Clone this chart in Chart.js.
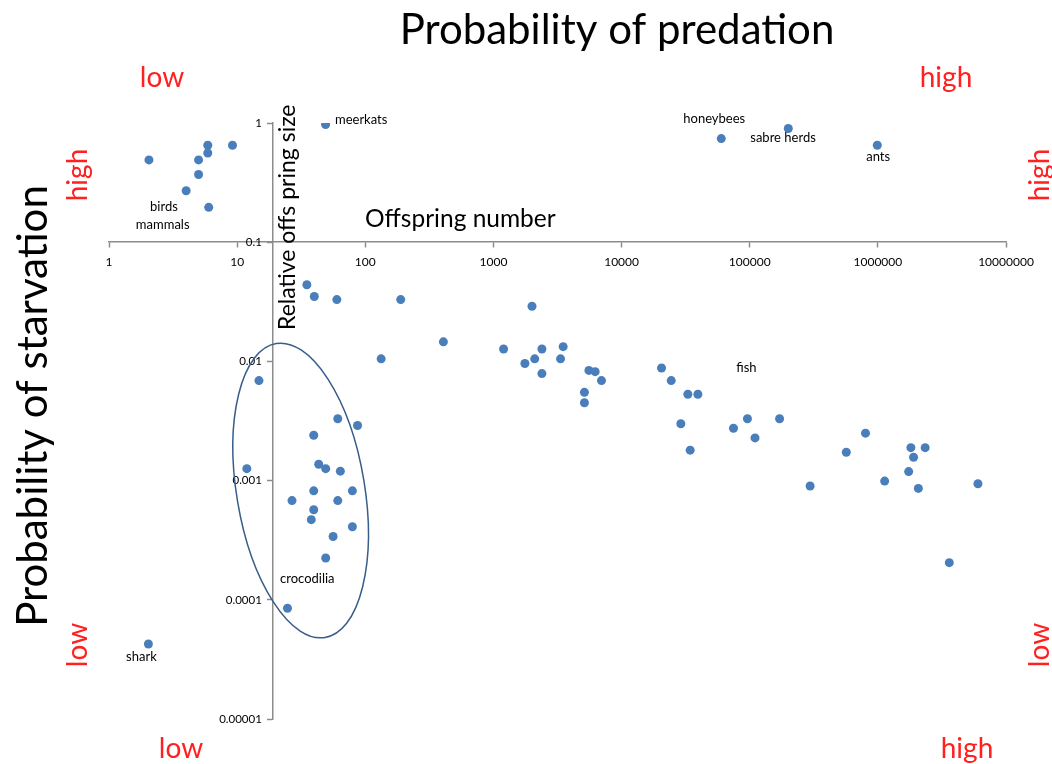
<!DOCTYPE html>
<html>
<head>
<meta charset="utf-8">
<script src="https://cdn.jsdelivr.net/npm/chart.js@4/dist/chart.umd.min.js"></script>
<style>
    body { margin: 0; background: #fff; }
    #wrap { width: 1052px; height: 764px; }
</style>
</head>
<body>
<div id="wrap"><canvas id="myChart" width="1052" height="764"></canvas></div>
<script>
// offspring number (x) vs relative offspring size (y)
var offspringNumber = [
    2.05, 5.9, 5.9, 9.2, 5.0, 5.0, 4.0, 6.0, 49,
    60000, 200000, 990000,
    35, 40, 60, 189, 407, 133, 14.8,
    2000, 1200, 1760, 2100, 2390, 2390, 3500, 3340, 5560, 6220, 6970, 5130, 5130,
    20500, 24400, 32900, 39400, 29000, 34300, 74700, 96000, 110000, 171000, 296000,
    801000, 567000, 1130000, 1810000, 2340000, 1900000, 1740000, 2070000, 6040000, 3610000,
    61, 87, 39.6, 11.9, 43.3, 49.1, 63.9, 39.6, 79.3, 26.8, 61, 39.6, 37.9, 79.3, 56.1, 49.1, 24.7,
    2.03
];
var offspringSize = [
    0.49, 0.65, 0.56, 0.65, 0.49, 0.37, 0.27, 0.196, 0.97,
    0.74, 0.9, 0.65,
    0.044, 0.035, 0.033, 0.033, 0.0146, 0.0105, 0.0069,
    0.029, 0.0127, 0.0096, 0.0105, 0.0127, 0.0079, 0.0133, 0.0105, 0.0084, 0.0082, 0.0069, 0.0055, 0.0045,
    0.0088, 0.0069, 0.0053, 0.0053, 0.0030, 0.0018, 0.00275, 0.0033, 0.00228, 0.0033, 0.0009,
    0.0025, 0.00173, 0.00099, 0.00189, 0.00189, 0.00157, 0.00119, 0.00086, 0.00094, 0.000205,
    0.0033, 0.0029, 0.0024, 0.00126, 0.00137, 0.00126, 0.0012, 0.00082, 0.00082, 0.00068, 0.00068,
    0.00057, 0.00047, 0.00041, 0.00034, 0.000224, 0.000085,
    0.0000426
];

var xTicks = [1, 10, 100, 1000, 10000, 100000, 1000000, 10000000];
var yTicks = [0.00001, 0.0001, 0.001, 0.01, 0.1, 1];

// group names written next to the points
var noteText = ['meerkats', 'honeybees', 'sabre herds', 'ants', 'birds', 'mammals', 'fish', 'crocodilia', 'shark'];
var noteX = [58, 30300, 101000, 811000, 2.09, 1.62, 78500, 21.6, 1.36];
var noteY = [1.06, 1.08, 0.75, 0.52, 0.2, 0.139, 0.0088, 0.000149, 0.0000331];

// the ring around the crocodilia
var ringX = 31.3;
var ringY = 0.000826;

var points = [];
for (i = 0; i < offspringNumber.length; i++) {
    points.push({ x: offspringNumber[i], y: offspringSize[i] });
}

var FONT = 'Lato, "Open Sans", sans-serif';

function text(ctx, str, x, y, size, color, align, rot) {
    ctx.save();
    ctx.translate(x, y);
    if (rot) ctx.rotate(rot);
    ctx.font = size + 'px ' + FONT;
    ctx.fillStyle = color;
    ctx.textAlign = align || 'center';
    ctx.textBaseline = 'middle';
    ctx.fillText(str, 0, 0);
    ctx.restore();
}

var extras = {
    id: 'extras',
    afterDatasetsDraw: function (chart) {
        var ctx = chart.ctx;
        var xs = chart.scales.x, ys = chart.scales.y;

        // y tick labels, left of the crossing axis
        var axisX = xs.getPixelForValue(19);
        for (var t = 0; t < yTicks.length; t++) {
            text(ctx, String(yTicks[t]), axisX - 11, ys.getPixelForValue(yTicks[t]), 11.5, '#000', 'right');
        }

        // ellipse
        ctx.save();
        ctx.beginPath();
        ctx.ellipse(xs.getPixelForValue(ringX), ys.getPixelForValue(ringY), 64, 149, -0.165, 0, Math.PI * 2);
        ctx.strokeStyle = '#385D8A';
        ctx.lineWidth = 1.5;
        ctx.stroke();
        ctx.restore();

        for (var i = 0; i < noteText.length; i++) {
            text(ctx, noteText[i], xs.getPixelForValue(noteX[i]), ys.getPixelForValue(noteY[i]), 13, '#000', 'left');
        }

        // axis names inside the plot
        text(ctx, 'Offspring number', 365, 219, 24.5, '#000', 'left');
        text(ctx, 'Relative offs pring size', 288, 330, 23, '#000', 'left', -Math.PI / 2);

        // outer titles
        text(ctx, 'Probability of predation', 617, 30, 42, '#000');
        text(ctx, 'Probability of starvation', 33, 406, 42, '#000', 'center', -Math.PI / 2);

        var red = '#FF2020';
        text(ctx, 'low', 162, 78, 28, red);
        text(ctx, 'high', 946, 78, 28, red);
        text(ctx, 'low', 181, 749, 28, red);
        text(ctx, 'high', 967, 749, 28, red);
        text(ctx, 'high', 78, 175, 28, red, 'center', -Math.PI / 2);
        text(ctx, 'low', 78, 645, 28, red, 'center', -Math.PI / 2);
        text(ctx, 'high', 1040, 175, 28, red, 'center', -Math.PI / 2);
        text(ctx, 'low', 1040, 645, 28, red, 'center', -Math.PI / 2);
    }
};

var ctx = document.getElementById('myChart');
var chart = new Chart(ctx, {
    type: 'scatter',
    data: {
        datasets: [{
            data: points,
            backgroundColor: '#4A7EBB',
            borderColor: '#4A7EBB',
            borderWidth: 0,
            pointRadius: 4.5
        }]
    },
    options: {
        responsive: false,
        animation: false,
        layout: { padding: { left: 109, right: 46, top: 123, bottom: 45 } },
        plugins: {
            legend: { display: false },
            tooltip: { enabled: false }
        },
        scales: {
            x: {
                type: 'logarithmic',
                min: 1,
                max: 10000000,
                position: { y: 0.1 },
                afterBuildTicks: function (axis) {
                    axis.ticks = xTicks.map(v => ({ value: v }));
                },
                ticks: {
                    font: { family: FONT, size: 12 },
                    color: '#000',
                    padding: 8,
                    maxRotation: 0,
                    autoSkip: false,
                    callback: function (v) { return String(v); }
                },
                grid: { drawOnChartArea: false, color: '#8c8c8c', tickLength: 5, tickWidth: 1.5 },
                border: { color: '#8c8c8c', width: 1.5 }
            },
            y: {
                type: 'logarithmic',
                min: 0.00001,
                max: 1,
                position: { x: 19 },
                afterBuildTicks: function (axis) {
                    axis.ticks = yTicks.map(v => ({ value: v }));
                },
                ticks: { display: false },
                grid: { drawOnChartArea: false, color: '#8c8c8c', tickLength: 5, tickWidth: 1.5 },
                border: { color: '#8c8c8c', width: 1.5 }
            }
        }
    },
    plugins: [extras]
});
</script>
</body>
</html>
